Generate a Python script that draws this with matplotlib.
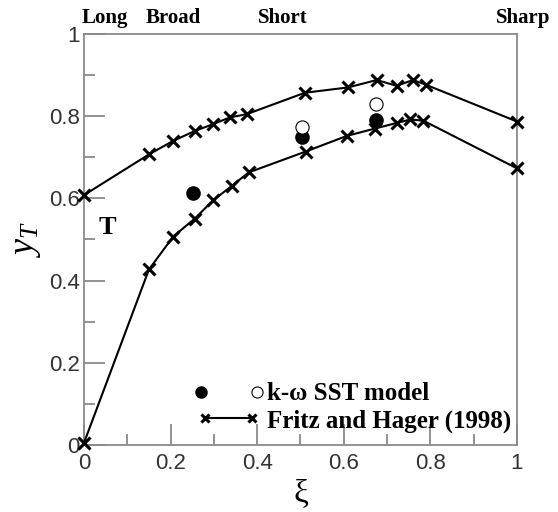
import matplotlib
matplotlib.use('Agg')
import matplotlib.pyplot as plt
from matplotlib.legend_handler import HandlerTuple, HandlerLine2D
from matplotlib.lines import Line2D
from matplotlib.ticker import MultipleLocator

# Fritz and Hager (1998) - upper and lower limits
xi_upper = [0.0, 0.15, 0.206, 0.256, 0.299, 0.337, 0.376, 0.51, 0.61, 0.676, 0.722, 0.76, 0.791, 1.0]
y_upper = [0.608, 0.707, 0.740, 0.764, 0.781, 0.797, 0.805, 0.857, 0.870, 0.888, 0.874, 0.888, 0.876, 0.787]

xi_lower = [0.0, 0.15, 0.206, 0.256, 0.299, 0.341, 0.38, 0.512, 0.607, 0.672, 0.724, 0.754, 0.784, 1.0]
y_lower = [0.005, 0.427, 0.507, 0.551, 0.596, 0.630, 0.663, 0.714, 0.752, 0.770, 0.784, 0.792, 0.789, 0.673]

# k-omega SST model
xi_sst_filled = [0.252, 0.503, 0.674]
y_sst_filled = [0.612, 0.750, 0.791]
xi_sst_open = [0.503, 0.674]
y_sst_open = [0.773, 0.829]

top_labels = ['Long', 'Broad', 'Short', 'Sharp']
top_pos = [0.048, 0.206, 0.46, 1.014]

serif = ['Liberation Serif', 'DejaVu Serif']
sans = ['Liberation Sans', 'DejaVu Sans']
plt.rcParams['mathtext.fontset'] = 'custom'
plt.rcParams['mathtext.it'] = 'Liberation Serif:italic'
plt.rcParams['mathtext.rm'] = 'Liberation Serif'

fig = plt.figure(figsize=(5.58, 5.12), dpi=100)
ax = fig.add_axes([0.1505, 0.1309, 0.776, 0.8027])

ax.plot(xi_upper, y_upper, color='black', lw=1.5, marker='x', ms=9, mew=2.2, clip_on=False, zorder=3)
ax.plot(xi_lower, y_lower, color='black', lw=1.5, marker='x', ms=9, mew=2.2, clip_on=False, zorder=3)
ax.plot(xi_sst_filled, y_sst_filled, 'o', color='black', ms=9.5, ls='none', zorder=4)
ax.plot(xi_sst_open, y_sst_open, 'o', mfc='white', mec='black', mew=0.8, ms=9.5, ls='none', zorder=4)

ax.set_xlim(0, 1)
ax.set_ylim(0, 1)
ax.xaxis.set_major_locator(MultipleLocator(0.2))
ax.xaxis.set_minor_locator(MultipleLocator(0.1))
ax.yaxis.set_major_locator(MultipleLocator(0.2))
ax.yaxis.set_minor_locator(MultipleLocator(0.1))
fmt = lambda v, p: ('%g' % round(v, 2))
ax.xaxis.set_major_formatter(fmt)
ax.yaxis.set_major_formatter(fmt)

for s in ax.spines.values():
    s.set_color('#8a8a8a')
    s.set_linewidth(1.3)
ax.tick_params(which='both', direction='in', color='#8a8a8a', width=1.3,
               labelcolor='#333333', labelsize=16)
ax.tick_params(axis='x', pad=6)
ax.tick_params(axis='y', pad=3)
ax.tick_params(which='major', length=15)
ax.tick_params(which='minor', length=8)
for lab in ax.get_xticklabels() + ax.get_yticklabels():
    lab.set_family(sans)

ax.set_xlabel('ξ', family=serif, fontsize=24, labelpad=3)
ax.set_ylabel(r'$y_T$', fontsize=26, labelpad=4)

ax.text(0.053, 0.53, 'T', family=serif, fontweight='bold', fontsize=19,
        ha='center', va='center')

for lab, xp in zip(top_labels, top_pos):
    ax.text(xp, 1.027, lab, family=serif, fontweight='bold', fontsize=15,
            ha='center', va='baseline', transform=ax.get_xaxis_transform())

# legend: filled circle at left end, open circle at right end of the handle
h_fill = Line2D([], [], marker='o', color='black', ls='none', ms=8)
h_open = Line2D([], [], marker='o', mfc='white', mec='black', mew=0.8, ls='none', ms=8)
h_fh = Line2D([], [], color='black', lw=1.5, marker='x', ms=6, mew=2.2)
hmap = {tuple: HandlerTuple(ndivide=2, pad=2.0),
        h_fill: HandlerLine2D(numpoints=1),
        h_open: HandlerLine2D(numpoints=1),
        h_fh: HandlerLine2D(numpoints=2)}
leg = ax.legend([(h_fill, h_open), h_fh], ['k-ω SST model', 'Fritz and Hager (1998)'],
                handler_map=hmap,
                loc='lower left', bbox_to_anchor=(0.262, 0.03), frameon=False,
                borderpad=0, borderaxespad=0,
                handlelength=2.5, handletextpad=0.3, labelspacing=0.15,
                prop={'family': serif, 'weight': 'bold', 'size': 18})

fig.savefig('out.png', dpi=100)
